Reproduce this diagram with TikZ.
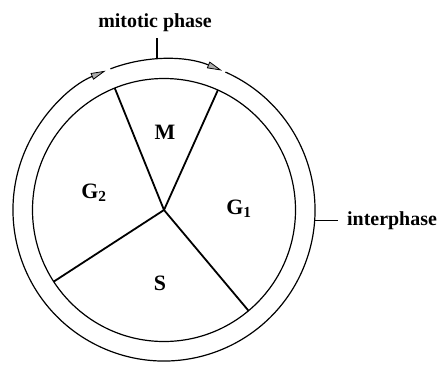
\documentclass[tikz,border=0pt]{standalone}
\usepackage{fontspec}
\setmainfont{Liberation Serif}
\usetikzlibrary{arrows.meta}
\begin{document}
\begin{tikzpicture}[x=1bp,y=1bp,
  ring/.style={line width=1.2bp},
  spoke/.style={line width=1.8bp},
  lbl/.style={font=\fontsize{20}{23}\selectfont\bfseries, inner sep=0pt},
  sec/.style={font=\fontsize{22}{25}\selectfont\bfseries, inner sep=0pt},
  cyc/.style={ring,-{Triangle[length=15bp,width=7bp,fill=gray!65,line width=0.8bp]}}]
\useasboundingbox (0,0) rectangle (441,364);
\coordinate (c) at (164,154);
% circles
\draw[ring] (c) circle[radius=131.5];
\draw[cyc] (c) ++(66:151) arc[start angle=66, end angle=-247.3, radius=151];
\draw[cyc] (c) ++(110.8:151) arc[start angle=110.8, end angle=67.4, radius=151];
% spokes
\path (c) ++(112:131.5) coordinate (p1);
\path (c) ++(65.8:131.5) coordinate (p2);
\path (c) ++(-50:131.5) coordinate (p3);
\path (c) ++(213:131.5) coordinate (p4);
\draw[spoke] (c) -- (p1);
\draw[spoke] (c) -- (p2);
\draw[spoke] (c) -- (p3);
\draw[spoke] (c) -- (p4);
% phase labels
\node[sec] (m) at (165,232) {M};
\node[sec] (g2) at (94,171) {G\textsubscript{2}};
\node[sec] (g1) at (239,155) {G\textsubscript{1}};
\node[sec] (s) at (160,81) {S};
% mitotic phase
\node[lbl] (mit) at (155,341.5) {mitotic phase};
\path (c) ++(92.6:151) coordinate (t);
\draw[line width=1.4bp] (t) -- (t |- 0,326);
% interphase
\node[lbl, anchor=west, inner xsep=9bp] (int) at (338,143) {interphase};
\path (c) ++(-3.8:151) coordinate (q);
\draw[line width=1bp] (q) -- (q -| int.west);
\end{tikzpicture}
\end{document}
